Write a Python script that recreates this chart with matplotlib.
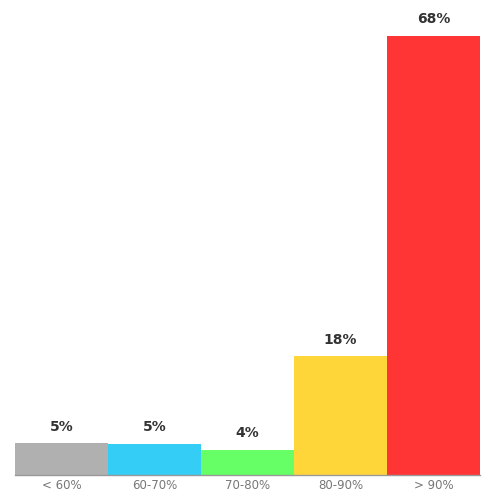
import matplotlib
matplotlib.use("Agg")
import matplotlib.pyplot as plt

# data
categories = ["< 60%", "60-70%", "70-80%", "80-90%", "> 90%"]
values = [4.9, 4.8, 3.9, 18.4, 68.0]
labels = ["5%", "5%", "4%", "18%", "68%"]
colors = ["#b0b0b0", "#33cdf6", "#66ff66", "#ffd63a", "#ff3535"]

fig = plt.figure(figsize=(5, 5), dpi=100)
ax = fig.add_axes([0.03, 0.05, 0.93, 0.95])

x = range(len(categories))
bars = ax.bar(x, values, width=1.0, color=colors, edgecolor="none")

for b, lab in zip(bars, labels):
    ax.text(b.get_x() + b.get_width() / 2, b.get_height() + 1.5, lab,
            ha="center", va="bottom", fontsize=10, fontweight="bold", color="#333333")

ax.set_xlim(-0.5, len(categories) - 0.5)
ax.set_ylim(0, 73.6)
ax.set_xticks(list(x))
ax.set_xticklabels(categories, fontsize=8.5, color="#777777")
ax.tick_params(axis="x", length=0, pad=3)
ax.set_yticks([])

for s in ["top", "right", "left"]:
    ax.spines[s].set_visible(False)
ax.spines["bottom"].set_color("#999999")
ax.spines["bottom"].set_linewidth(1)

fig.savefig("out.png", dpi=100)
